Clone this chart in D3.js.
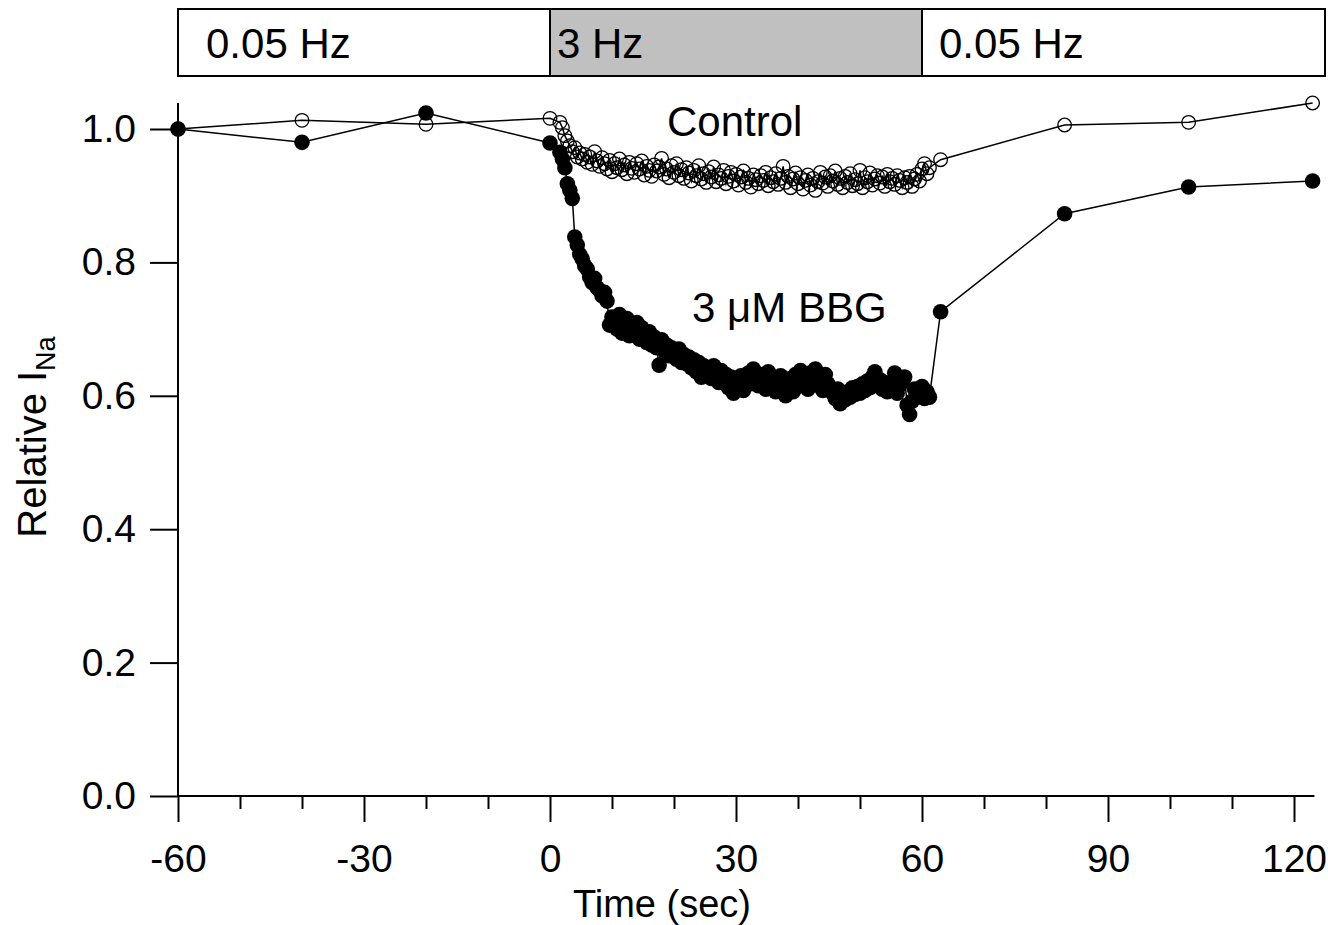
<!DOCTYPE html>
<html><head><meta charset="utf-8">
<script src="https://cdn.jsdelivr.net/npm/d3@7"></script>
<style>body{margin:0;background:#fff}svg{display:block}text{font-family:"Liberation Sans",Arial,sans-serif;fill:#000}</style>
</head><body>
<svg id="c" width="1328" height="925"></svg>
<script>
// ---- data ----
const ctrlPreT = [-60, -40, -20, 0];
const ctrlPreV = [1.000, 1.013, 1.007, 1.016];
const bbgPreT = [-60, -40, -20, 0];
const bbgPreV = [1.000, 0.980, 1.024, 0.979];

const denseT = [
 1.6,2.0,2.4,2.8,3.2,3.6,4.0,4.4,4.8,5.2,
 5.6,6.0,6.4,6.8,7.2,7.6,8.0,8.4,8.8,9.2,
 9.6,10.0,10.4,10.8,11.2,11.6,12.0,12.4,12.8,13.2,
 13.6,14.0,14.4,14.8,15.2,15.6,16.0,16.4,16.8,17.2,
 17.6,18.0,18.4,18.8,19.2,19.6,20.0,20.4,20.8,21.2,
 21.6,22.0,22.4,22.8,23.2,23.6,24.0,24.4,24.8,25.2,
 25.6,26.0,26.4,26.8,27.2,27.6,28.0,28.4,28.8,29.2,
 29.6,30.0,30.4,30.8,31.2,31.6,32.0,32.4,32.8,33.2,
 33.6,34.0,34.4,34.8,35.2,35.6,36.0,36.4,36.8,37.2,
 37.6,38.0,38.4,38.8,39.2,39.6,40.0,40.4,40.8,41.2,
 41.6,42.0,42.4,42.8,43.2,43.6,44.0,44.4,44.8,45.2,
 45.6,46.0,46.4,46.8,47.2,47.6,48.0,48.4,48.8,49.2,
 49.6,50.0,50.4,50.8,51.2,51.6,52.0,52.4,52.8,53.2,
 53.6,54.0,54.4,54.8,55.2,55.6,56.0,56.4,56.8,57.2,
 57.6,58.0,58.4,58.8,59.2,59.6,60.0,60.4,60.8,61.2];

const ctrlDenseV = [
 1.010,1.002,0.990,0.982,0.975,0.966,0.972,0.958,0.964,0.955,
 0.962,0.950,0.958,0.947,0.966,0.952,0.944,0.957,0.948,0.940,
 0.953,0.936,0.948,0.942,0.955,0.939,0.946,0.933,0.950,0.941,
 0.935,0.948,0.940,0.952,0.931,0.944,0.938,0.929,0.946,0.937,
 0.943,0.956,0.932,0.940,0.927,0.945,0.935,0.948,0.930,0.939,
 0.926,0.942,0.934,0.922,0.938,0.930,0.945,0.925,0.933,0.920,
 0.936,0.928,0.943,0.921,0.931,0.926,0.938,0.918,0.929,0.935,
 0.922,0.932,0.916,0.928,0.937,0.920,0.926,0.913,0.931,0.924,
 0.918,0.930,0.923,0.935,0.915,0.927,0.921,0.933,0.917,0.926,
 0.944,0.920,0.929,0.912,0.925,0.934,0.918,0.927,0.910,0.923,
 0.931,0.916,0.926,0.908,0.921,0.935,0.919,0.928,0.914,0.930,
 0.922,0.937,0.917,0.926,0.912,0.929,0.920,0.933,0.915,0.924,
 0.918,0.938,0.912,0.927,0.921,0.934,0.916,0.925,0.930,0.919,
 0.928,0.914,0.932,0.921,0.926,0.917,0.930,0.923,0.912,0.927,
 0.920,0.929,0.914,0.925,0.932,0.922,0.940,0.948,0.933,0.942];

const bbgDenseV = [
 0.965,0.955,0.942,0.918,0.908,0.896,0.838,0.826,0.812,0.805,
 0.795,0.790,0.778,0.770,0.776,0.762,0.758,0.750,0.755,0.742,
 0.706,0.718,0.712,0.700,0.722,0.694,0.708,0.716,0.690,0.704,
 0.698,0.710,0.685,0.702,0.692,0.680,0.696,0.676,0.688,0.672,
 0.646,0.684,0.668,0.676,0.660,0.672,0.664,0.655,0.670,0.650,
 0.662,0.648,0.658,0.642,0.654,0.636,0.650,0.628,0.645,0.634,
 0.640,0.626,0.645,0.630,0.620,0.638,0.624,0.632,0.612,0.628,
 0.604,0.620,0.614,0.630,0.608,0.626,0.634,0.618,0.640,0.622,
 0.615,0.632,0.624,0.610,0.636,0.618,0.628,0.606,0.622,0.630,
 0.612,0.600,0.618,0.626,0.606,0.632,0.614,0.638,0.620,0.628,
 0.610,0.634,0.622,0.640,0.616,0.628,0.608,0.632,0.618,0.612,
 0.604,0.596,0.610,0.588,0.600,0.594,0.606,0.598,0.612,0.602,
 0.614,0.604,0.618,0.608,0.622,0.612,0.628,0.636,0.616,0.624,
 0.610,0.620,0.606,0.618,0.612,0.634,0.604,0.616,0.622,0.628,
 0.586,0.572,0.592,0.610,0.598,0.604,0.614,0.596,0.606,0.598];

const ctrlPostT = [63, 83, 103, 123];
const ctrlPostV = [0.954, 1.006, 1.010, 1.039];
const bbgPostT = [63, 83, 103, 123];
const bbgPostV = [0.726, 0.873, 0.913, 0.922];

const stimStart = [-60, 0, 60];
const stimEnd = [0, 60, 125];
const stimLabels = ["0.05 Hz", "3 Hz", "0.05 Hz"];
const stimFill = ["#ffffff", "#c0c0c0", "#ffffff"];

const xTicksMajor = [-60, -30, 0, 30, 60, 90, 120];
const xTicksMinor = [-50, -40, -20, -10, 10, 20, 40, 50, 70, 80, 100, 110];
const yTicks = [0.0, 0.2, 0.4, 0.6, 0.8, 1.0];

// ---- build ----
const zip = (t, v) => t.map((d, i) => ({t: d, v: v[i]}));
const ctrl = zip(ctrlPreT, ctrlPreV).concat(zip(denseT, ctrlDenseV), zip(ctrlPostT, ctrlPostV));
const bbg = zip(bbgPreT, bbgPreV).concat(zip(denseT, bbgDenseV), zip(bbgPostT, bbgPostV));

const svg = d3.select("#c");
const x = d3.scaleLinear().domain([-60, 120]).range([178, 1294]);
const y = d3.scaleLinear().domain([0, 1]).range([796, 129]);
const FONT = '"Liberation Sans",Arial,sans-serif';

// stimulus boxes
const sg = svg.append("g");
stimStart.forEach((s, i) => {
  sg.append("rect").attr("x", x(s)).attr("y", 9).attr("width", x(stimEnd[i]) - x(s)).attr("height", 67)
    .attr("fill", stimFill[i]).attr("stroke", "#000").attr("stroke-width", 2);
});
const labelOff = [28, 7, 17];
stimStart.forEach((s, i) => {
  sg.append("text").attr("x", x(s) + labelOff[i]).attr("y", 58).attr("font-size", 42).text(stimLabels[i]);
});

// axes
const xAxis = d3.axisBottom(x).tickValues(xTicksMajor).tickSize(26).tickSizeOuter(0).tickPadding(22).tickFormat(d => String(d));
const gx = svg.append("g").attr("transform", "translate(0,796)").call(xAxis);
gx.select(".domain").remove();
gx.append("line").attr("x1", x(-60)).attr("x2", x(123.3)).attr("y1", 0).attr("y2", 0).attr("stroke", "#000").attr("stroke-width", 2);
gx.selectAll(".tick line").attr("stroke-width", 2);
gx.selectAll(".tick text").attr("font-size", 39).attr("font-family", FONT);
const xMinor = d3.axisBottom(x).tickValues(xTicksMinor).tickSize(13).tickFormat("");
const gxm = svg.append("g").attr("transform", "translate(0,796)").call(xMinor);
gxm.select(".domain").remove();
gxm.selectAll(".tick line").attr("stroke-width", 2);

const yAxis = d3.axisLeft(y).tickValues(yTicks).tickSize(28).tickSizeOuter(0).tickPadding(14).tickFormat(d3.format(".1f"));
const gy = svg.append("g").attr("transform", "translate(178,0)").call(yAxis);
gy.select(".domain").remove();
gy.append("line").attr("x1", 0).attr("x2", 0).attr("y1", y(0)).attr("y2", y(1.039)).attr("stroke", "#000").attr("stroke-width", 2);
gy.selectAll(".tick line").attr("stroke-width", 2);
gy.selectAll(".tick text").attr("font-size", 39).attr("font-family", FONT);

// axis titles
svg.append("text").attr("x", 662).attr("y", 917).attr("text-anchor", "middle").attr("font-size", 38).text("Time (sec)");
const yl = svg.append("text").attr("transform", "translate(46,437) rotate(-90)").attr("text-anchor", "middle").attr("font-size", 40);
yl.append("tspan").text("Relative I");
yl.append("tspan").attr("font-size", 27).attr("dy", 9).text("Na");

// lines
const line = d3.line().x(d => x(d.t)).y(d => y(d.v));
svg.append("path").datum(ctrl).attr("d", line).attr("fill", "none").attr("stroke", "#000").attr("stroke-width", 1.5);
svg.append("path").datum(bbg).attr("d", line).attr("fill", "none").attr("stroke", "#000").attr("stroke-width", 1.5);

// markers
svg.append("g").selectAll("circle").data(ctrl).join("circle")
  .attr("cx", d => x(d.t)).attr("cy", d => y(d.v)).attr("r", 6.8)
  .attr("fill", "none").attr("stroke", "#000").attr("stroke-width", 1.3);
svg.append("g").selectAll("circle").data(bbg).join("circle")
  .attr("cx", d => x(d.t)).attr("cy", d => y(d.v)).attr("r", 7.8)
  .attr("fill", "#000");

// annotations
svg.append("text").attr("x", 667).attr("y", 136).attr("font-size", 42).text("Control");
svg.append("text").attr("x", 692).attr("y", 322).attr("font-size", 42).text("3 μM BBG");
</script>
</body></html>
